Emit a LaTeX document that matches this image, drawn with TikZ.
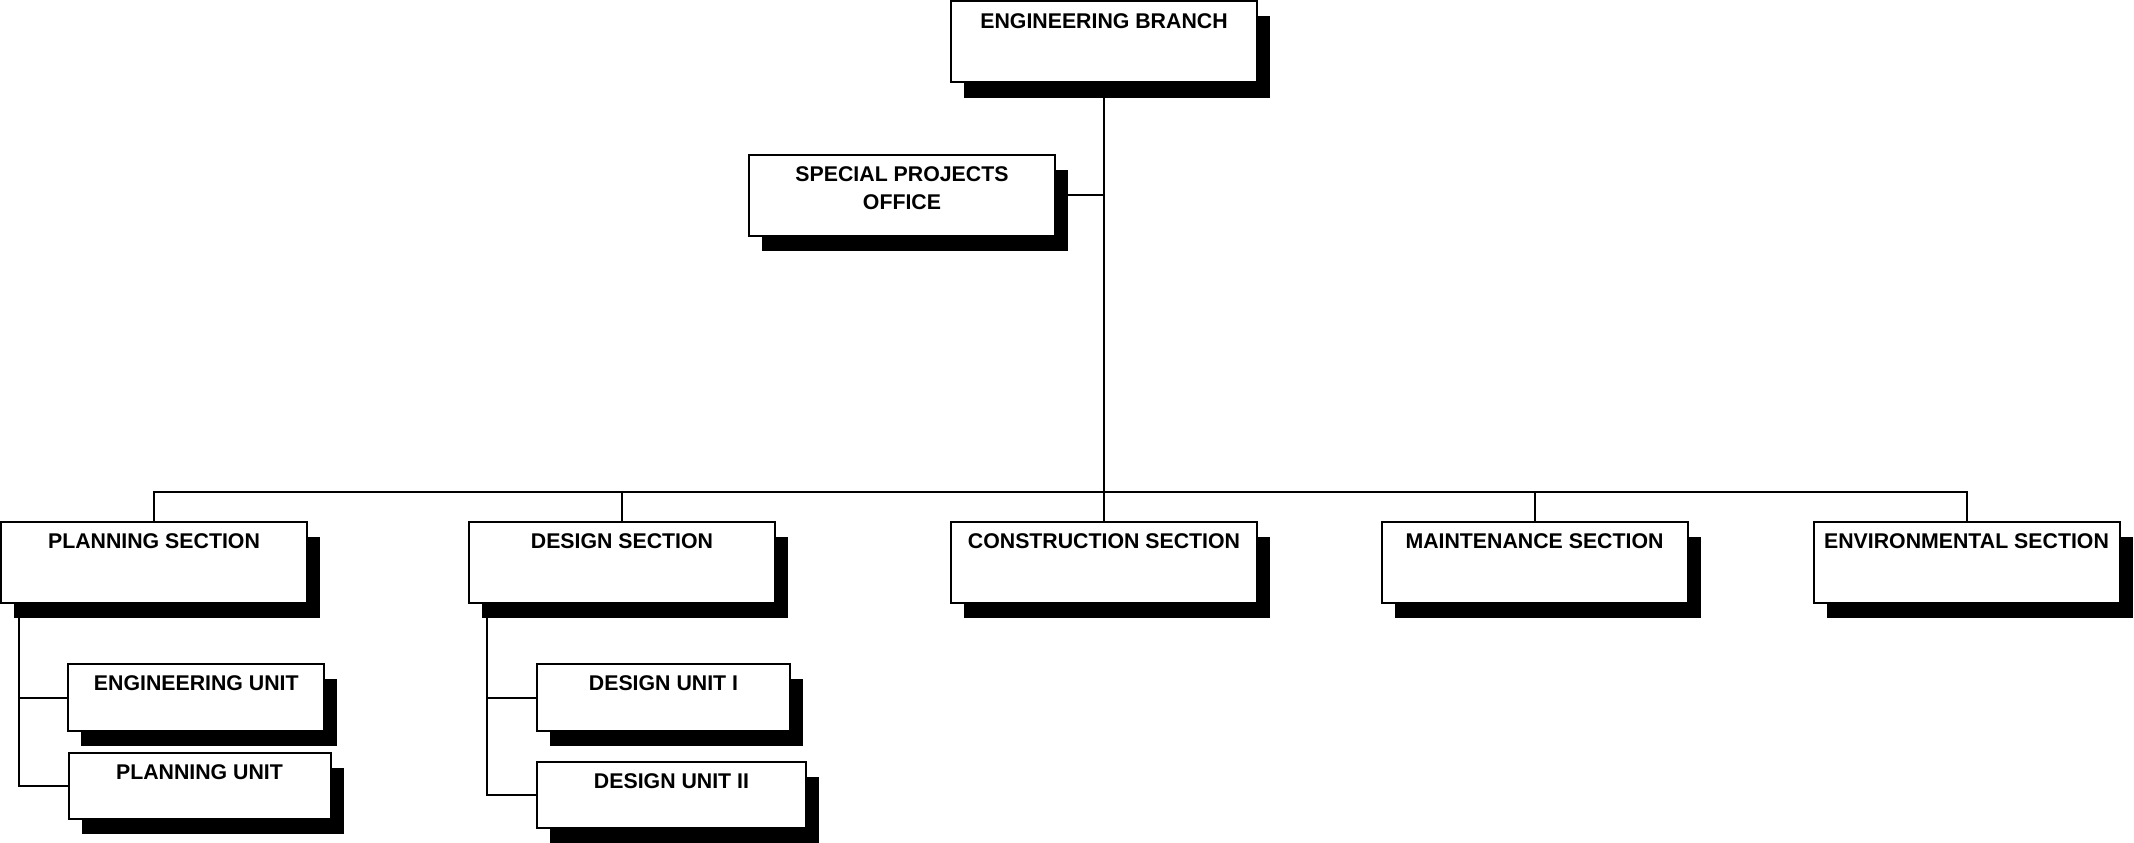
\documentclass[tikz,border=0pt]{standalone}
\usepackage{fontspec}
\setmainfont{Liberation Sans}
\usetikzlibrary{positioning,calc,shadows}

\begin{document}
\begin{tikzpicture}[
    x=1pt, y=-1pt,
    orgbox/.style={
      draw=black,
      fill=white,
      line width=2pt,
      inner sep=0pt,
      minimum width=306pt,
      minimum height=81pt,
      drop shadow={shadow xshift=13pt, shadow yshift=-15pt, opacity=1, fill=black}
    },
    unitbox/.style={
      orgbox,
      minimum height=67pt
    },
    orgtext/.style={
      anchor=north,
      inner sep=0pt,
      yshift=-12.5pt,
      align=center,
      font=\bfseries\fontsize{21.3}{28}\selectfont
    },
    orgline/.style={
      line width=2pt,
      black
    }
  ]
  \useasboundingbox (0,0) rectangle (2134,843);

  % 顶部
  \node[orgbox] (branch) at (1104,42) {};
  \node[orgtext] (branch-t) at (branch.north) {ENGINEERING BRANCH};
  \node[orgbox] (special) at (902,195) {};
  \node[orgtext] (special-t) at (special.north) {SPECIAL PROJECTS\\OFFICE};

  % 各科
  \node[orgbox] (planning) at (154,562.5) {};
  \node[orgtext] (planning-t) at (planning.north) {PLANNING SECTION};
  \node[orgbox] (design) at (622,562.5) {};
  \node[orgtext] (design-t) at (design.north) {DESIGN SECTION};
  \node[orgbox] (construction) at (1104,562.5) {};
  \node[orgtext] (construction-t) at (construction.north) {CONSTRUCTION SECTION};
  \node[orgbox] (maintenance) at (1534.5,562.5) {};
  \node[orgtext] (maintenance-t) at (maintenance.north) {MAINTENANCE SECTION};
  \node[orgbox] (environmental) at (1966.5,562.5) {};
  \node[orgtext] (environmental-t) at (environmental.north) {ENVIRONMENTAL SECTION};

  % 下属单位
  \node[unitbox, minimum width=256pt] (engunit) at (196.3,697.5) {};
  \node[orgtext] (engunit-t) at (engunit.north) {ENGINEERING UNIT};
  \node[unitbox, minimum width=262pt, minimum height=66pt] (planunit) at (199.5,786) {};
  \node[orgtext] (planunit-t) at (planunit.north) {PLANNING UNIT};
  \node[unitbox, minimum width=253pt] (desunitA) at (663.5,697.5) {};
  \node[orgtext] (desunitA-t) at (desunitA.north) {DESIGN UNIT I};
  \node[unitbox, minimum width=269pt, minimum height=66pt] (desunitB) at (671.5,795) {};
  \node[orgtext] (desunitB-t) at (desunitB.north) {DESIGN UNIT II};

  % 主干
  \coordinate (bar) at (1104,491.7);
  \draw[orgline] (branch.south) -- (construction.north);
  \draw[orgline] (special.east) -- (special.east -| branch.south);
  \draw[orgline] (planning.north) -- (planning.north |- bar) -| (environmental.north);
  \draw[orgline] (design.north) -- (design.north |- bar);
  \draw[orgline] (maintenance.north) -- (maintenance.north |- bar);

  % 科内连线
  \coordinate (planbus) at ($(planning.south west)+(19,0)$);
  \coordinate (desbus) at ($(design.south west)+(18.5,0)$);
  \draw[orgline] (planbus) |- (engunit.west);
  \draw[orgline] (planbus) |- (planunit.west);
  \draw[orgline] (desbus) |- (desunitA.west);
  \draw[orgline] (desbus) |- (desunitB.west);

\end{tikzpicture}
\end{document}
